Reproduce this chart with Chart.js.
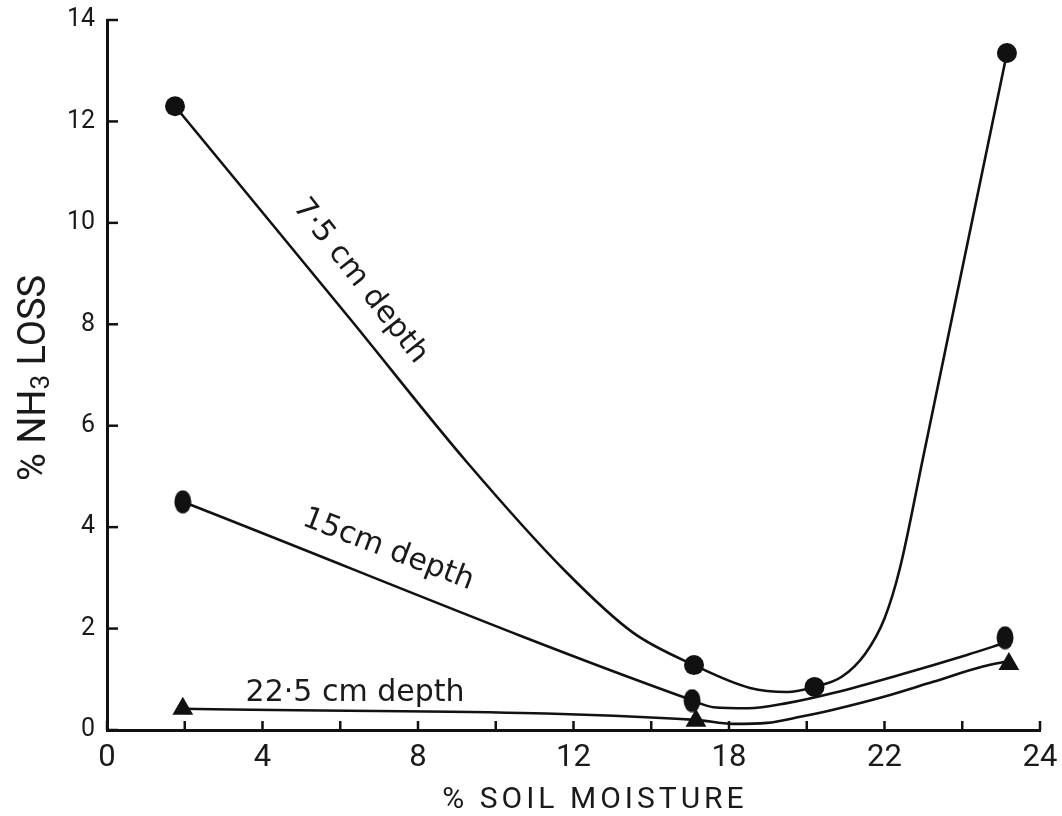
<!DOCTYPE html>
<html><head><meta charset="utf-8">
<script src="https://cdn.jsdelivr.net/npm/chart.js@4.4.1/dist/chart.umd.min.js"></script>
<style>html,body{margin:0;padding:0;background:#fff}#wrap{width:1062px;height:816px;position:relative}</style>
</head><body><div id="wrap"><canvas id="c"></canvas></div>
<script>
// ---- measured markers (% soil moisture, % NH3 loss) ----
const moisture75 = [1.75, 15.1, 18.2, 23.15];
const loss75 = [12.3, 1.28, 0.85, 13.35];
const moisture15 = [1.95, 15.05, 23.1];
const loss15 = [4.5, 0.58, 1.82];
const moisture225 = [1.95, 15.15, 23.2];
const loss225 = [0.42, 0.18, 1.3];

// ---- hand-drawn fitted curves ----
const curve75X = [1.75, 6.25, 9.26, 11.83, 13.53, 15.1, 16.54, 17.49, 18.2, 18.9, 19.5, 20.0, 20.4, 21.0, 22.0, 23.15];
const curve75Y = [12.3, 8.11, 5.28, 3.10, 1.92, 1.28, 0.83, 0.75, 0.85, 1.05, 1.5, 2.2, 3.2, 5.4, 9.1, 13.35];
const curve15X = [1.95, 15.0, 15.6, 16.5, 17.49, 18.68, 20.4, 22.12, 23.1];
const curve15Y = [4.5, 0.6, 0.45, 0.43, 0.53, 0.73, 1.09, 1.48, 1.72];
const curve225X = [1.95, 15.15, 16.1, 16.98, 17.83, 18.68, 19.96, 21.25, 22.53, 23.2];
const curve225Y = [0.42, 0.2, 0.12, 0.14, 0.26, 0.40, 0.65, 0.95, 1.25, 1.36];

const xTickValues = [0, 4, 8, 12, 16, 20, 24];
const xTickLabels = ['0', '4', '8', '12', '18', '22', '24'];
const yTickLabels = ['0', '2', '4', '6', '8', '10', '12', '14'];
const seriesLabels = ['7·5 cm depth', '15cm depth', '22·5 cm depth'];
const xTitle = '% SOIL MOISTURE';
const yTitleParts = ['% NH', '3', ' LOSS'];

const pts = (xs, ys) => xs.map((x, i) => ({x, y: ys[i]}));
const INK = '#111';

// ellipse marker used for the 15 cm series
const ell = document.createElement('canvas');
ell.width = 18; ell.height = 24;
(() => { const c = ell.getContext('2d'); c.fillStyle = INK; c.beginPath(); c.ellipse(9, 12, 8.5, 11.5, 0, 0, Math.PI * 2); c.fill(); })();

const labelPlugin = {
  id: 'annot',
  afterDraw(chart) {
    const {ctx, scales: {x, y}, chartArea: a} = chart;
    ctx.save();
    // inward tick marks
    ctx.strokeStyle = INK; ctx.lineWidth = 2.5;
    x.ticks.forEach(t => { const px = x.getPixelForValue(t.value); ctx.beginPath(); ctx.moveTo(px, a.bottom); ctx.lineTo(px, a.bottom - 9); ctx.stroke(); });
    y.ticks.forEach(t => { const py = y.getPixelForValue(t.value); ctx.beginPath(); ctx.moveTo(a.left, py); ctx.lineTo(a.left + 11, py); ctx.stroke(); });
    // curve labels
    ctx.fillStyle = '#1a1a1a';
    ctx.font = '30px "DejaVu Sans"';
    ctx.textAlign = 'center'; ctx.textBaseline = 'middle';
    const lab = [[6.51, 8.85, 52], [7.23, 3.55, 21], [6.38, 0.72, 0]];
    lab.forEach((l, i) => {
      ctx.save();
      ctx.translate(x.getPixelForValue(l[0]), y.getPixelForValue(l[1]));
      ctx.rotate(l[2] * Math.PI / 180);
      ctx.fillText(seriesLabels[i], 0, 0);
      ctx.restore();
    });
    // x title
    ctx.font = '30px Roboto';
    ctx.letterSpacing = '4px';
    ctx.textBaseline = 'alphabetic';
    ctx.fillText(xTitle, 595, 808);
    // y title (rotated, with subscript)
    ctx.letterSpacing = '0px';
    ctx.save();
    ctx.translate(45, 378);
    ctx.rotate(-Math.PI / 2);
    ctx.textAlign = 'left';
    const big = '38px Roboto', small = '26px Roboto';
    ctx.font = big; const w0 = ctx.measureText(yTitleParts[0]).width;
    ctx.font = small; const w1 = ctx.measureText(yTitleParts[1]).width;
    ctx.font = big; const w2 = ctx.measureText(yTitleParts[2]).width;
    let sx = -(w0 + w1 + w2) / 2;
    ctx.font = big; ctx.fillText(yTitleParts[0], sx, 0); sx += w0;
    ctx.font = small; ctx.fillText(yTitleParts[1], sx, 4); sx += w1;
    ctx.font = big; ctx.fillText(yTitleParts[2], sx, 0);
    ctx.restore();
    ctx.restore();
  }
};

const lineDs = (data) => ({data, showLine: true, borderColor: INK, borderWidth: 2.6, pointRadius: 0, cubicInterpolationMode: 'monotone', fill: false});

new Chart(document.getElementById('c'), {
  type: 'scatter',
  data: {
    datasets: [
      lineDs(pts(curve75X, curve75Y)),
      lineDs(pts(curve15X, curve15Y)),
      lineDs(pts(curve225X, curve225Y)),
      {data: pts(moisture75, loss75), pointStyle: 'circle', pointRadius: 10, backgroundColor: INK, borderColor: INK, borderWidth: 0},
      {data: pts(moisture15, loss15), pointStyle: ell, pointRadius: 10, backgroundColor: INK, borderColor: INK},
      {data: pts(moisture225, loss225), pointStyle: 'triangle', pointRadius: 12, backgroundColor: INK, borderColor: INK, borderWidth: 0}
    ]
  },
  options: {
    responsive: true, maintainAspectRatio: false, animation: false,
    layout: {padding: {left: 0, right: 22, top: 20, bottom: 0}},
    plugins: {legend: {display: false}, tooltip: {enabled: false}},
    scales: {
      x: {
        type: 'linear', min: 0, max: 24,
        grid: {display: false, drawTicks: true, tickLength: 10},
        border: {display: true, color: INK, width: 3},
        ticks: {
          stepSize: 2, autoSkip: false, maxRotation: 0, padding: 0, color: '#1a1a1a',
          font: {family: 'Roboto', size: 31},
          callback: (v) => { const i = xTickValues.indexOf(v); return i >= 0 ? xTickLabels[i] : ''; }
        },
        afterFit: (s) => { s.height = 86; }
      },
      y: {
        type: 'linear', min: 0, max: 14,
        grid: {display: false, drawTicks: true, tickLength: 12},
        border: {display: true, color: INK, width: 3},
        ticks: {
          stepSize: 2, padding: 0, color: '#1a1a1a',
          font: {family: 'Roboto', size: 25},
          callback: (v) => yTickLabels[v / 2]
        },
        afterFit: (s) => { s.width = 107; }
      }
    }
  },
  plugins: [labelPlugin]
});
</script></body></html>
